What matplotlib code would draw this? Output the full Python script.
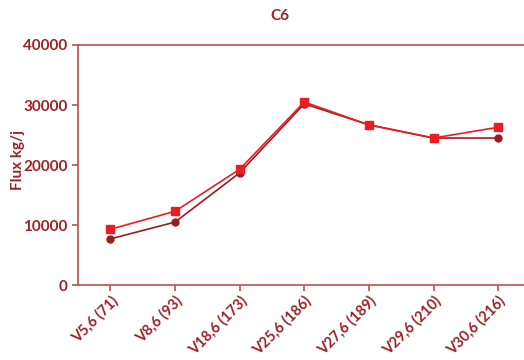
import matplotlib.pyplot as plt

# campagnes de mesure (jour julien entre parenthèses)
campagnes = ["V5,6 (71)", "V8,6 (93)", "V18,6 (173)", "V25,6 (186)",
             "V27,6 (189)", "V29,6 (210)", "V30,6 (216)"]
flux_carres = [9300, 12300, 19300, 30500, 26700, 24500, 26300]
flux_ronds = [7700, 10500, 18700, 30200, 26700, 24500, 24500]

texte = "#9b2226"
axe = "#c0504d"

plt.rcParams["font.family"] = ["Lato", "DejaVu Sans"]
plt.rcParams["font.weight"] = "bold"

fig = plt.figure(figsize=(5.24, 3.6), dpi=100)
ax = fig.add_axes([0.149, 0.208, 0.851, 0.667])

x = range(len(campagnes))
ax.plot(x, flux_ronds, color="#9b1c20", marker="o", markersize=5, linewidth=1.2)
ax.plot(x, flux_carres, color="#ec1c24", marker="s", markersize=5.5, linewidth=1.2)

ax.set_xlim(-0.5, 6.4)
ax.set_ylim(0, 40000)
ax.set_yticks([0, 10000, 20000, 30000, 40000])
ax.set_xticks(list(x))
ax.set_xticklabels(campagnes, rotation=45, ha="right", rotation_mode="anchor")

for s in ["left", "bottom", "top"]:
    ax.spines[s].set_color(axe)
    ax.spines[s].set_linewidth(1.2)
ax.spines["right"].set_visible(False)
ax.tick_params(colors=axe, labelcolor=texte, labelsize=11, length=4, width=1.2)
ax.tick_params(axis="x", labelsize=10.5, pad=2)

ax.set_ylabel("Flux kg/j", color=texte, fontsize=11, fontweight="bold")
ax.yaxis.set_label_coords(-0.12, 0.52)
fig.text(0.535, 0.955, "C6", color=texte, fontsize=11, fontweight="bold",
         ha="center", va="center")

fig.savefig("out.png", dpi=100)
